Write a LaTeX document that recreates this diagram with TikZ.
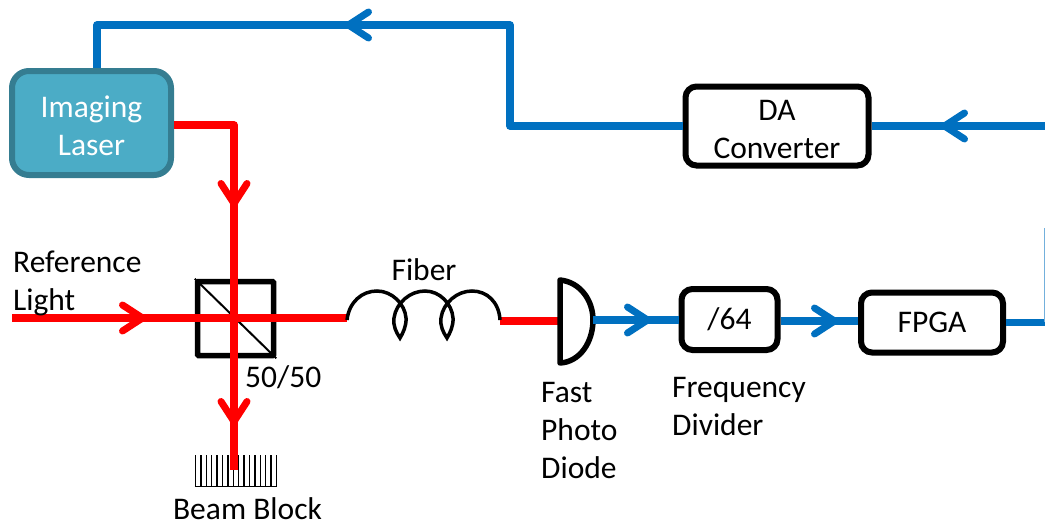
\documentclass[tikz,border=0pt]{standalone}
\usepackage{fontspec}
\setmainfont{Carlito}
\usetikzlibrary{arrows.meta}
\definecolor{wireblue}{HTML}{0070C0}
\definecolor{laserfill}{HTML}{4BACC6}
\definecolor{laserline}{HTML}{357D91}
\tikzset{
  x=1pt,y=-1pt,
  lbl/.style={font=\fontsize{31.5}{38}\selectfont,text=black,inner sep=0pt,align=left},
  redw/.style={draw=red,line width=7.5pt},
  bluew/.style={draw=wireblue,line width=7.5pt},
  head/.style={-{Straight Barb[round,length=20pt,width=26pt,line width=7pt]}},
  blackbox/.style={draw=black,line width=6pt,rounded corners=11pt,fill=white,inner sep=0pt,align=center,font=\fontsize{31.5}{38}\selectfont},
}
\begin{document}
\begin{tikzpicture}
\useasboundingbox (0,0) rectangle (1045,525);
% nodes
\node[draw=laserline,fill=laserfill,line width=6pt,rounded corners=17pt,minimum width=159pt,minimum height=104pt,inner sep=0pt,align=center,text=white,font=\fontsize{31.5}{38}\selectfont] (laser) at (91.5,123) {\rule{0pt}{27pt}Imaging\\Laser};
\node[blackbox,minimum width=183pt,minimum height=79pt] (da) at (777,126) {\rule{0pt}{27pt}DA\\Converter};
\node[blackbox,minimum width=96pt,minimum height=61pt] (div) at (729.5,319.5) {/64};
\node[blackbox,minimum width=142pt,minimum height=60pt] (fpga) at (932,322.5) {FPGA};
\node[draw=black,line width=5.5pt,rounded corners=1pt,minimum width=76pt,minimum height=74pt,inner sep=0pt] (cube) at (235.5,318.5) {};
\draw[black,line width=2pt] (cube.north west) -- (cube.south east);
% coordinates
\coordinate (tl) at (97,25);
\coordinate (tr) at (510,25);
\coordinate (tra) at (345,25);
\coordinate (mr) at (510,126);
\coordinate (er) at (1045,126);
\coordinate (era) at (941,126);
\coordinate (ef) at (1045,322.5);
\coordinate (lcorner) at (234,125);
\coordinate (ra1) at (234,207);
\coordinate (ra2) at (234,425);
\coordinate (refs) at (12,318);
\coordinate (refa) at (146,318);
\coordinate (fibs) at (347,318);
\coordinate (fibe) at (500,321);
\coordinate (blockend) at (234,470);
\coordinate (pdn) at (560,280);
\coordinate (pds) at (560,363);
\coordinate (pde) at (593,320);
\coordinate (pdp) at (560,321);
\coordinate (pda) at (651,320);
% beam block
\foreach \i in {0,...,15}{\draw[black,line width=1.3pt] (195.5+\i*5.4,455) -- (195.5+\i*5.4,486);}
\node[draw=none,inner sep=0pt,minimum width=82pt,minimum height=1pt] (blockbase) at (236,486.5) {};
\draw[black,line width=1.6pt] (blockbase.west) -- (blockbase.east);
% red beams
\draw[redw] (refs) -- (fibs);
\draw[redw,head] (refs) -- (refa);
\draw[redw,line join=round] (laser.east |- lcorner) -- (lcorner) -- (blockend);
\draw[redw,head] (lcorner) -- (ra1);
\draw[redw,head] (lcorner) -- (ra2);
\draw[redw] (fibe) -- (pdp);
% fiber
\draw[black,line width=3.5pt,line cap=butt]
  (347,320) .. controls (349,302) and (362,291) .. (377,291)
  .. controls (392,291) and (405,304) .. (406,318)
  .. controls (406.5,326) and (403,333) .. (400,338)
  .. controls (396,332) and (393,326) .. (394,318)
  .. controls (396,303) and (410,291) .. (425,291)
  .. controls (440,291) and (452,304) .. (453,318)
  .. controls (453.5,326) and (450,333) .. (447,338)
  .. controls (443,332) and (440,326) .. (441,318)
  .. controls (443,303) and (457,291) .. (472,291)
  .. controls (487,291) and (499,302) .. (500,320);
% photodiode
\draw[black,line width=5.5pt,fill=white,line join=round] (pdn) .. controls (580,282) and (593,300) .. (pde) .. controls (593,342) and (580,362) .. (pds) -- cycle;
% blue wires
\draw[bluew,line join=round] (tl |- laser.north) -- (tl) -- (tr) -- (mr) -- (da.west);
\draw[bluew,head] (tr) -- (tra);
\draw[bluew] (da.east) -- (er);
\draw[bluew,head] (er) -- (era);
\draw[bluew] (pde) -- (div.west |- pde);
\draw[bluew,head] (pde) -- (pda);
\coordinate (dfa) at (838,321);
\draw[bluew] (div.east |- dfa) -- (fpga.west |- dfa);
\draw[bluew,head] (div.east |- dfa) -- (dfa);
\draw[bluew] (fpga.east) -- (ef);
\draw[draw=wireblue!55,line width=1pt] (1044.5,228) -- (1044.5,322);
% labels
\node[lbl,anchor=base west] (reftxt) at (13,272) {Reference};
\node[lbl,anchor=base west] (lighttxt) at (13,310) {Light};
\node[lbl,anchor=base] (fibtxt) at (424,280) {Fiber};
\node[lbl,anchor=base west] (fifty) at (245,387) {50/50};
\node[lbl,anchor=base] (bb) at (247.5,519) {Beam Block};
\node[lbl,anchor=base west] (fast) at (541,402) {Fast};
\node[lbl,anchor=base west] (photo) at (541,440) {Photo};
\node[lbl,anchor=base west] (diode) at (541,478) {Diode};
\node[lbl,anchor=base west] (freq) at (672,397) {Frequency};
\node[lbl,anchor=base west] (dvd) at (672,435) {Divider};
\end{tikzpicture}
\end{document}
